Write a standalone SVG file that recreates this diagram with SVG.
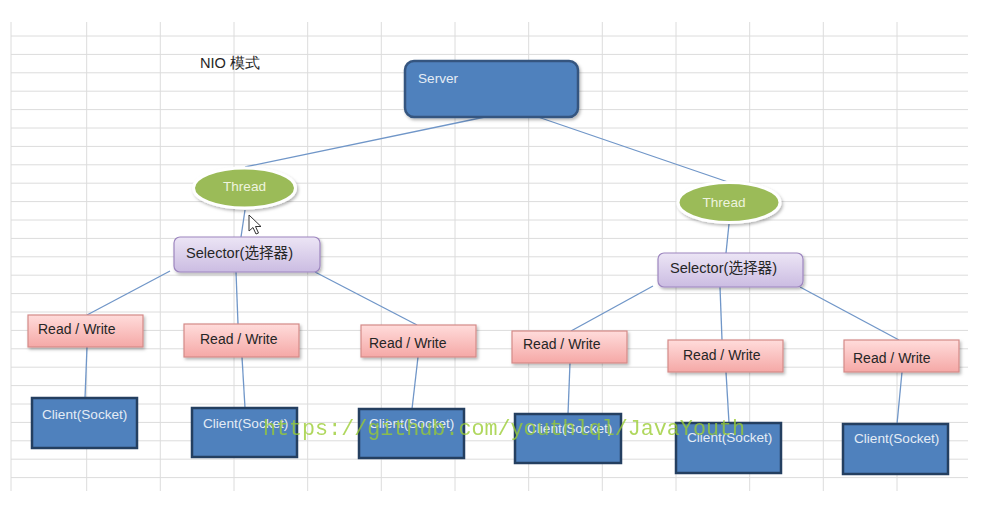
<svg xmlns="http://www.w3.org/2000/svg" width="981" height="508" viewBox="0 0 981 508">
  <style>
    .grid { stroke: #dcdcdc; stroke-width: 1; fill: none; }
    .link { stroke: #7096c8; stroke-width: 1.3; fill: none; }
    .server { fill: #4f81bd; stroke: #34557f; stroke-width: 2.5; }
    .client { fill: #4f81bd; stroke: #243f60; stroke-width: 2.5; }
    .thread { fill: #9bbb59; stroke: #ffffff; stroke-width: 3; }
    .selector { fill: url(#lavender); stroke: #9d86bf; stroke-width: 1.2; }
    .rw { fill: url(#pink); stroke: #d48a88; stroke-width: 1.2; }
    .lbl { font-family: "Liberation Sans", Arial, sans-serif; }
    .dark { fill: #262626; font-size: 14px; }
    .light { fill: #e4ecf5; font-size: 13.6px; }
    .thr { fill: #eef4de; font-size: 13.6px; }
    .sel { fill: #262626; font-size: 14.6px; font-family: "Liberation Sans", "Noto Sans CJK SC", sans-serif; }
    .mark { font-family: "Liberation Mono", "DejaVu Sans Mono", monospace; font-size: 21.7px; fill: #9acd32; opacity: 0.78; }
  </style>
  <defs>
    <linearGradient id="lavender" x1="0" y1="0" x2="0" y2="1">
      <stop offset="0" stop-color="#ece5f5"/>
      <stop offset="1" stop-color="#cbbce2"/>
    </linearGradient>
    <linearGradient id="pink" x1="0" y1="0" x2="0" y2="1">
      <stop offset="0" stop-color="#ffdcdb"/>
      <stop offset="1" stop-color="#f5a8a6"/>
    </linearGradient>
    <filter id="shadow" x="-20%" y="-30%" width="140%" height="170%">
      <feDropShadow dx="1.5" dy="2" stdDeviation="1.6" flood-color="#000" flood-opacity="0.28"/>
    </filter>
  </defs>

  <rect x="0" y="0" width="981" height="508" fill="#ffffff"/>

  <!-- spreadsheet grid -->
  <path class="grid" d="M11 36H968M11 54.4H968M11 72.8H968M11 91.2H968M11 109.6H968M11 128H968M11 146.4H968M11 164.8H968M11 183.2H968M11 201.6H968M11 220H968M11 238.4H968M11 256.8H968M11 275.2H968M11 293.6H968M11 312H968M11 330.4H968M11 348.8H968M11 367.2H968M11 385.6H968M11 404H968M11 422.4H968M11 440.8H968M11 459.2H968M11 477.6H968
    M11 22V491M86.7 22V491M160.3 22V491M234 22V491M307.7 22V491M381.3 22V491M455 22V491M528.7 22V491M602.3 22V491M676 22V491M749.7 22V491M823.3 22V491M897 22V491"/>

  <text class="lbl" x="200" y="68" fill="#262626" font-size="14.6" font-family="Liberation Sans, Noto Sans CJK SC, sans-serif">NIO 模式</text>

  <!-- connectors -->
  <g id="connectors">
    <line class="link" x1="485" y1="117" x2="245" y2="167"/>
    <line class="link" x1="538" y1="117" x2="728" y2="182"/>
    <line class="link" x1="245" y1="210" x2="241" y2="237"/>
    <line class="link" x1="729" y1="224" x2="726" y2="253"/>
    <line class="link" x1="170" y1="271" x2="87" y2="315"/>
    <line class="link" x1="236" y1="272" x2="238" y2="324"/>
    <line class="link" x1="315" y1="272" x2="417" y2="325"/>
    <line class="link" x1="653" y1="286" x2="571" y2="331"/>
    <line class="link" x1="720" y1="287" x2="722" y2="340"/>
    <line class="link" x1="800" y1="287" x2="899" y2="340"/>
    <line class="link" x1="87" y1="347" x2="85" y2="398"/>
    <line class="link" x1="242" y1="357" x2="245" y2="408"/>
    <line class="link" x1="418" y1="357" x2="412" y2="409"/>
    <line class="link" x1="570" y1="363" x2="568" y2="414"/>
    <line class="link" x1="726" y1="372" x2="729" y2="423"/>
    <line class="link" x1="902" y1="372" x2="897" y2="424"/>
  </g>

  <g id="server">
    <rect class="server" x="405" y="61" width="173" height="56" rx="9" filter="url(#shadow)"/>
    <text class="lbl light" x="418" y="83">Server</text>
  </g>

  <g id="thread-left">
    <ellipse class="thread" cx="244.5" cy="188" rx="51" ry="20" filter="url(#shadow)"/>
    <text class="lbl thr" x="244.5" y="191" text-anchor="middle">Thread</text>
  </g>
  <g id="thread-right">
    <ellipse class="thread" cx="729" cy="202.5" rx="51" ry="20" filter="url(#shadow)"/>
    <text class="lbl thr" x="724" y="207" text-anchor="middle">Thread</text>
  </g>

  <g id="selector-left">
    <rect class="selector" x="174" y="237" width="146" height="35" rx="6" filter="url(#shadow)"/>
    <text class="sel" x="186" y="258">Selector(选择器)</text>
  </g>
  <g id="selector-right">
    <rect class="selector" x="658" y="253" width="145" height="34" rx="6" filter="url(#shadow)"/>
    <text class="sel" x="670" y="273">Selector(选择器)</text>
  </g>

  <g id="rw-1">
    <rect class="rw" x="28" y="315" width="115" height="32" filter="url(#shadow)"/>
    <text class="lbl dark" x="38" y="334">Read / Write</text>
  </g>
  <g id="rw-2">
    <rect class="rw" x="184" y="324" width="115" height="33" filter="url(#shadow)"/>
    <text class="lbl dark" x="200" y="344">Read / Write</text>
  </g>
  <g id="rw-3">
    <rect class="rw" x="361" y="325" width="115" height="32" filter="url(#shadow)"/>
    <text class="lbl dark" x="369" y="348">Read / Write</text>
  </g>
  <g id="rw-4">
    <rect class="rw" x="512" y="331" width="115" height="32" filter="url(#shadow)"/>
    <text class="lbl dark" x="523" y="349">Read / Write</text>
  </g>
  <g id="rw-5">
    <rect class="rw" x="668" y="340" width="115" height="32" filter="url(#shadow)"/>
    <text class="lbl dark" x="683" y="360">Read / Write</text>
  </g>
  <g id="rw-6">
    <rect class="rw" x="844" y="340" width="115" height="32" filter="url(#shadow)"/>
    <text class="lbl dark" x="853" y="363">Read / Write</text>
  </g>

  <g id="client-1">
    <rect class="client" x="32" y="398" width="105" height="50"/>
    <text class="lbl light" x="42" y="419">Client(Socket)</text>
  </g>
  <g id="client-2">
    <rect class="client" x="192" y="408" width="105" height="49"/>
    <text class="lbl light" x="203" y="428">Client(Socket)</text>
  </g>
  <g id="client-3">
    <rect class="client" x="359" y="409" width="105" height="49"/>
    <text class="lbl light" x="369" y="428">Client(Socket)</text>
  </g>
  <g id="client-4">
    <rect class="client" x="515" y="414" width="106" height="49"/>
    <text class="lbl light" x="527" y="433">Client(Socket)</text>
  </g>
  <g id="client-5">
    <rect class="client" x="676" y="423" width="105" height="50"/>
    <text class="lbl light" x="687" y="442">Client(Socket)</text>
  </g>
  <g id="client-6">
    <rect class="client" x="843" y="424" width="105" height="50"/>
    <text class="lbl light" x="854" y="443">Client(Socket)</text>
  </g>

  <!-- mouse pointer -->
  <path d="M249 215 L249 231 L253 227.5 L256 234 L258.5 233 L255.5 226.5 L261 226.5 Z" fill="#ffffff" stroke="#333" stroke-width="1" stroke-linejoin="round"/>

  <text class="mark" x="263" y="435" textLength="482" lengthAdjust="spacingAndGlyphs">https://github.com/youthlql/JavaYouth</text>
</svg>
